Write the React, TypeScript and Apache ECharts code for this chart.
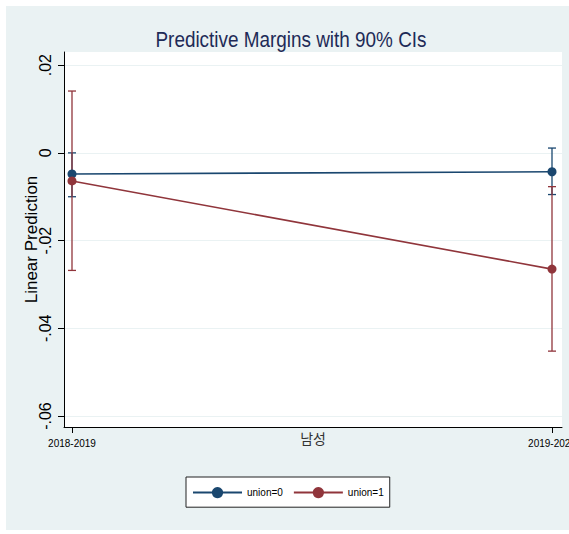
import React, { useEffect, useRef } from "react";
import * as echarts from "echarts";

const periods = ["2018-2019", "2019-2020"];
const xPos = [0, 1];
const union0Margin = [-0.0048, -0.0043];
const union0Low = [-0.0100, -0.0095];
const union0High = [0.0000, 0.0011];
const union1Margin = [-0.0064, -0.0265];
const union1Low = [-0.0268, -0.0452];
const union1High = [0.0141, -0.0077];
const yTicks = [0.02, 0, -0.02, -0.04, -0.06];
const yTickLabels = [".02", "0", "-.02", "-.04", "-.06"];
const titleText = "Predictive Margins with 90% CIs";

const BLUE = "#1a476f";
const RED = "#90353b";
const BG = "#eaf2f3";
const SANS = "'Liberation Sans', Arial, sans-serif";

function fmtY(v: number): string {
  let best = 0;
  for (let i = 1; i < yTicks.length; i++) {
    if (Math.abs(yTicks[i] - v) < Math.abs(yTicks[best] - v)) best = i;
  }
  return yTickLabels[best];
}

function errorSeries(name: string, low: number[], high: number[], color: string) {
  return {
    type: "custom",
    name: name + " CI",
    silent: true,
    data: xPos.map((x, i) => [x, low[i], high[i]]),
    encode: { x: 0, y: [1, 2] },
    z: 2,
    renderItem: (params: any, api: any) => {
      const x = api.value(0);
      const lo = api.coord([x, api.value(1)]);
      const hi = api.coord([x, api.value(2)]);
      const hw = 4;
      const st = { stroke: color, lineWidth: 1.3 };
      return {
        type: "group",
        children: [
          { type: "line", shape: { x1: lo[0], y1: lo[1], x2: hi[0], y2: hi[1] }, style: st },
          { type: "line", shape: { x1: lo[0] - hw, y1: lo[1], x2: lo[0] + hw, y2: lo[1] }, style: st },
          { type: "line", shape: { x1: hi[0] - hw, y1: hi[1], x2: hi[0] + hw, y2: hi[1] }, style: st },
        ],
      };
    },
  };
}

export default function App() {
  const ref = useRef<HTMLDivElement>(null);
  useEffect(() => {
    if (!ref.current) return;
    const chart = echarts.init(ref.current, undefined, { renderer: "svg" });
    chart.setOption({
      animation: false,
      backgroundColor: "#ffffff",
      graphic: [
        {
          type: "rect",
          z: -10,
          silent: true,
          shape: { x: 6, y: 6, width: 563, height: 524 },
          style: { fill: BG },
        },
        {
          type: "text",
          x: 291,
          y: 39,
          scaleX: 0.86,
          silent: true,
          style: {
            text: titleText,
            fontFamily: SANS,
            fontSize: 22,
            fill: "#1e2b57",
            align: "center",
            verticalAlign: "middle",
          },
        },
      ],
      grid: {
        left: 64,
        right: 7,
        top: 52,
        bottom: 107,
        show: true,
        backgroundColor: "#ffffff",
        borderWidth: 0,
        containLabel: false,
        outerBoundsMode: "none",
      },
      xAxis: {
        type: "value",
        min: -8 / 480,
        max: 1 + 10 / 480,
        name: "남성",
        nameLocation: "middle",
        nameGap: 4,
        nameMoveOverlap: false,
        nameTextStyle: {
          fontFamily: "'Noto Sans CJK KR', sans-serif",
          fontSize: 14,
          color: "#333333",
        },
        axisLine: { show: true, onZero: false, lineStyle: { color: "#000000", width: 1 } },
        axisTick: { show: true, length: 6, customValues: xPos, lineStyle: { color: "#000000" } },
        axisLabel: {
          customValues: xPos,
          formatter: (v: number) => periods[Math.round(v)],
          margin: 11,
          hideOverlap: false,
          fontFamily: SANS,
          fontSize: 10,
          color: "#000000",
        },
        splitLine: { show: false },
      },
      yAxis: {
        type: "value",
        min: -0.0625,
        max: 0.023,
        name: "Linear Prediction",
        nameLocation: "middle",
        nameRotate: 90,
        nameGap: 24,
        nameMoveOverlap: false,
        nameTextStyle: {
          fontFamily: SANS,
          fontSize: 17,
          color: "#000000",
        },
        axisLine: { show: true, onZero: false, lineStyle: { color: "#000000", width: 1 } },
        axisTick: { show: true, length: 6, customValues: yTicks, lineStyle: { color: "#000000" } },
        axisLabel: {
          customValues: yTicks,
          formatter: fmtY,
          rotate: 90,
          margin: 11,
          fontFamily: SANS,
          fontSize: 16,
          color: "#000000",
        },
        splitLine: { show: true, lineStyle: { color: BG, width: 1 } },
      },
      legend: {
        left: 186,
        top: 477,
        orient: "horizontal",
        data: ["union=0", "union=1"],
        backgroundColor: "#ffffff",
        borderColor: "#222222",
        borderWidth: 1,
        padding: [10, 6, 9, 6],
        itemWidth: 49,
        itemHeight: 14,
        itemGap: 10,
        textStyle: {
          fontFamily: SANS,
          fontSize: 10,
          color: "#000000",
        },
      },
      series: [
        errorSeries("union=0", union0Low, union0High, BLUE),
        errorSeries("union=1", union1Low, union1High, RED),
        {
          type: "line",
          name: "union=0",
          data: xPos.map((x, i) => [x, union0Margin[i]]),
          symbol: "circle",
          symbolSize: 9,
          lineStyle: { color: BLUE, width: 1.6 },
          itemStyle: { color: BLUE },
          z: 3,
        },
        {
          type: "line",
          name: "union=1",
          data: xPos.map((x, i) => [x, union1Margin[i]]),
          symbol: "circle",
          symbolSize: 9,
          lineStyle: { color: RED, width: 1.6 },
          itemStyle: { color: RED },
          z: 3,
        },
      ],
    });
    return () => chart.dispose();
  }, []);
  return <div ref={ref} style={{ width: 569, height: 534, position: "absolute", left: 0, top: 0 }} />;
}
